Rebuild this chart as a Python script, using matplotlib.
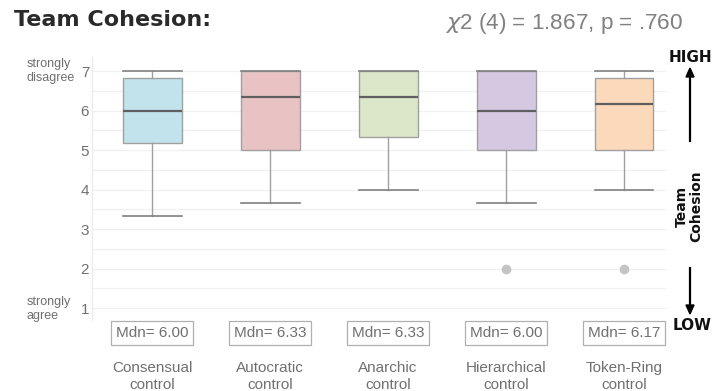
import matplotlib.pyplot as plt

plt.rcParams['font.family'] = ['Liberation Sans', 'DejaVu Sans']

# group summaries (quartiles, whiskers, outliers) on the 1-7 scale
groups = ['Consensual\ncontrol', 'Autocratic\ncontrol', 'Anarchic\ncontrol',
          'Hierarchical\ncontrol', 'Token-Ring\ncontrol']
medians = [6.00, 6.33, 6.33, 6.00, 6.17]
q1 = [5.17, 5.00, 5.33, 5.00, 5.00]
q3 = [6.83, 7.00, 7.00, 7.00, 6.83]
whis_lo = [3.33, 3.67, 4.00, 3.67, 4.00]
whis_hi = [7.00, 7.00, 7.00, 7.00, 7.00]
outliers = [[], [], [], [2.0], [2.0]]
colors = ['#c2e3ec', '#e9c3c4', '#dce6c8', '#d5c9e1', '#fbd9ba']

stats = []
for i in range(len(groups)):
    stats.append(dict(med=medians[i], q1=q1[i], q3=q3[i],
                      whislo=whis_lo[i], whishi=whis_hi[i],
                      fliers=outliers[i]))

fig = plt.figure(figsize=(7.14, 3.91), dpi=100)
ax = fig.add_axes([92/714, 41/391, 574/714, 294/391])

pos = list(range(len(groups)))
bp = ax.bxp(stats, positions=pos, widths=0.5, capwidths=0.5,
            patch_artist=True, showfliers=True,
            boxprops=dict(edgecolor='#a0a0a0', linewidth=1.0),
            medianprops=dict(color='#606060', linewidth=1.6),
            whiskerprops=dict(color='#a0a0a0', linewidth=1.0),
            capprops=dict(color='#808080', linewidth=1.2),
            flierprops=dict(marker='o', markersize=6, markerfacecolor='#c4c4c4',
                            markeredgecolor='#c4c4c4'))
for patch, c in zip(bp['boxes'], colors):
    patch.set_facecolor(c)

# light grid on whole and half points
for v in [1, 1.5, 2, 2.5, 3, 3.5, 4, 4.5, 5, 5.5, 6, 6.5, 7]:
    ax.axhline(v, color='#f0f0f0', linewidth=0.9, zorder=0)
ax.plot([-0.51, -0.51], [0.7, 7.35], color='#ececec', linewidth=1.0, clip_on=False)

ax.set_xlim(-0.51, 4.356)
ax.set_ylim(-0.06, 7.38)
ax.set_yticks([1, 2, 3, 4, 5, 6, 7])
ax.set_xticks(pos)
ax.set_xticklabels(groups, color='#707070', fontsize=11, linespacing=1.25)
ax.tick_params(axis='y', colors='#707070', labelsize=11, length=0, pad=2)
ax.tick_params(axis='x', length=0, pad=8)
for s in ax.spines.values():
    s.set_visible(False)

# median labels in boxes under each group
for x, m in zip(pos, medians):
    ax.text(x, 0.37, 'Mdn= %.2f' % m, ha='center', va='center', fontsize=11,
            color='#707070',
            bbox=dict(boxstyle='square,pad=0.3', facecolor='white',
                      edgecolor='#b0b0b0', linewidth=0.9))

fig.text(27/714, 1 - 71/391, 'strongly\ndisagree', ha='left', va='center',
         fontsize=9, color='#707070', linespacing=1.3)
fig.text(27/714, 1 - 309/391, 'strongly\nagree', ha='left', va='center',
         fontsize=9, color='#707070', linespacing=1.3)

fig.text(14/714, 1 - 20/391, 'Team Cohesion:', ha='left', va='center',
         fontsize=16, fontweight='heavy', color='#2a2a2a',
         family='DejaVu Sans')
fig.text(683/714, 1 - 23/391, r'$\chi$2 (4) = 1.867, p = .760', ha='right',
         va='center', fontsize=16.2, color='#808080')

# HIGH / LOW direction marker on the right
fig.text(690/714, 1 - 57/391, 'HIGH', ha='center', va='center',
         fontsize=11, fontweight='bold', color='#111111', family='DejaVu Sans')
fig.text(692/714, 1 - 325/391, 'LOW', ha='center', va='center',
         fontsize=11, fontweight='bold', color='#111111', family='DejaVu Sans')
fig.text(689/714, 1 - 206/391, 'Team\nCohesion', ha='center', va='center',
         rotation=90, fontsize=10, fontweight='bold', color='#111111',
         linespacing=1.1, family='DejaVu Sans')
fig.add_artist(plt.Line2D([690/714, 690/714], [1 - 141/391, 1 - 77/391],
                          color='black', linewidth=1.6))
fig.patches.append(plt.Polygon([[686/714, 1 - 77/391], [694/714, 1 - 77/391],
                                [690/714, 1 - 68/391]], closed=True,
                               transform=fig.transFigure, color='black'))
fig.add_artist(plt.Line2D([690/714, 690/714], [1 - 268/391, 1 - 305/391],
                          color='black', linewidth=1.6))
fig.patches.append(plt.Polygon([[686/714, 1 - 305/391], [694/714, 1 - 305/391],
                                [690/714, 1 - 314/391]], closed=True,
                               transform=fig.transFigure, color='black'))

fig.savefig('out.png', dpi=100)
